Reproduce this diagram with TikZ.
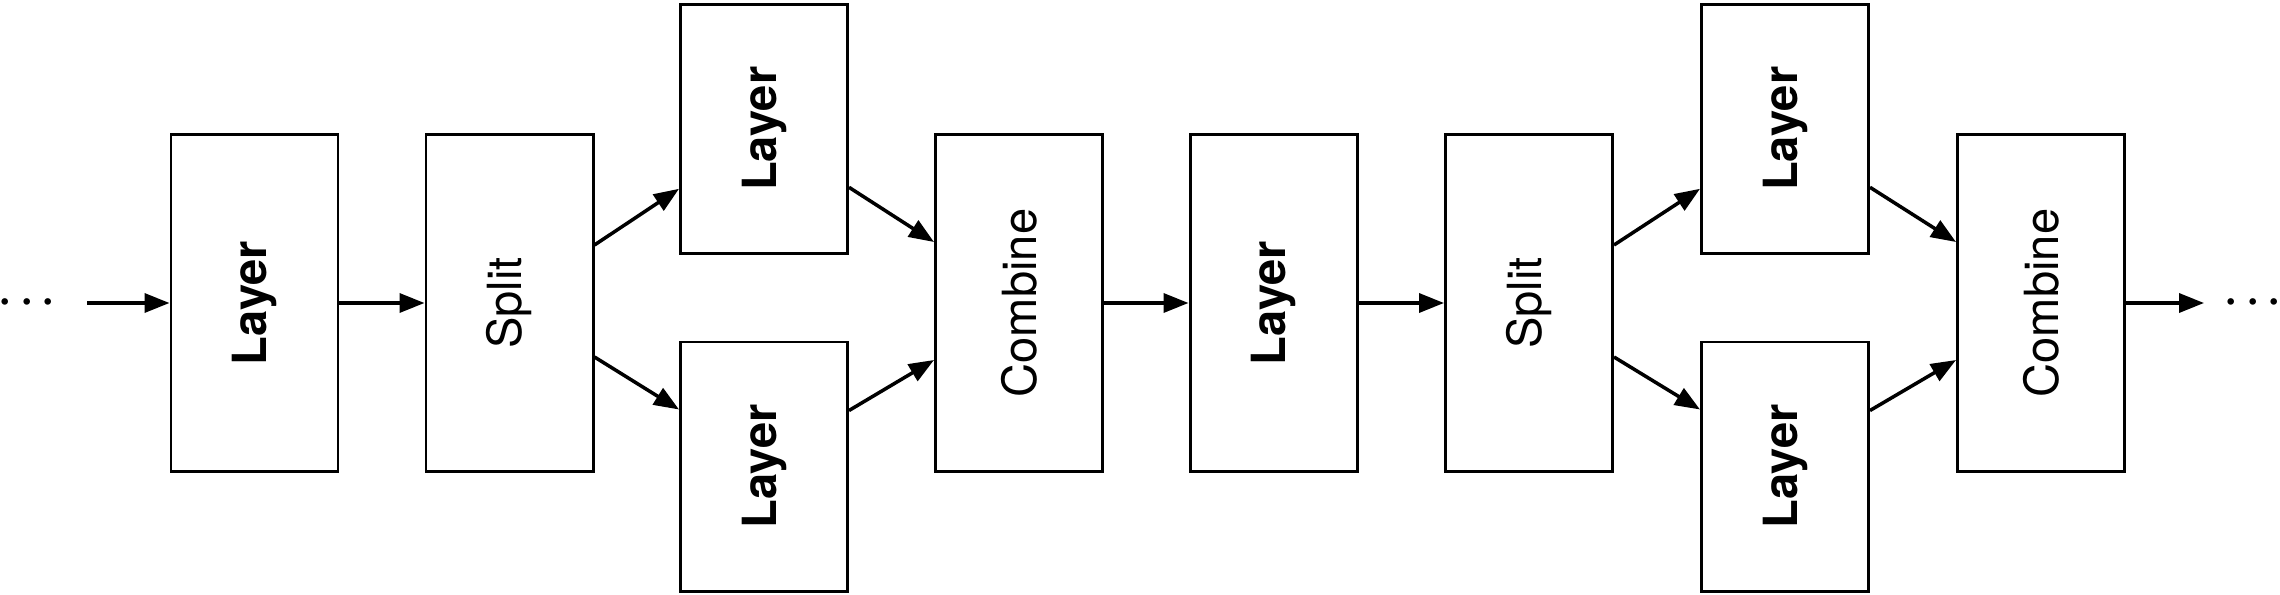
\documentclass[tikz,border=0pt]{standalone}
\usepackage{fontspec}
\setmainfont{TeX Gyre Heros}
\usepackage{graphicx}
\usepackage{bm}
\usetikzlibrary{arrows.meta}
\tikzset{
  blk/.style={draw,line width=0.85pt,minimum width=1.67cm,minimum height=3.37cm,inner sep=0pt},
  side/.style={blk,minimum height=2.49cm},
  arr/.style={line width=1pt,-{Triangle[length=2.5mm,width=1.9mm]}},
  etc/.style={font=\fontsize{12.5pt}{14pt}\selectfont,inner sep=0pt}
}
\newcommand{\upt}[1]{\rotatebox{90}{#1}}

\begin{document}
\begin{tikzpicture}[font=\fontsize{13.4pt}{16pt}\selectfont]
\useasboundingbox (0,0) rectangle (22.8,5.94);
\node[etc] (dl) at (0.27,2.91) {$\bm{\cdots}$};
\node[etc] (dr) at (22.53,2.91) {$\bm{\cdots}$};
\coordinate (in) at (0.87,2.91);
\coordinate (out) at (22.04,2.91);
\node[blk] (l1) at (2.545,2.91) {\upt{\bfseries Layer}};
\node[blk] (sp1) at (5.095,2.91) {\upt{Split}};
\node[side] (up1) at (7.64,4.652) {\upt{\bfseries Layer}};
\node[side] (lo1) at (7.64,1.275) {\upt{\bfseries Layer}};
\node[blk] (cb1) at (10.19,2.91) {\upt{Combine}};
\node[blk] (l2) at (12.735,2.91) {\upt{\bfseries Layer}};
\node[blk] (sp2) at (15.29,2.91) {\upt{Split}};
\node[side] (up2) at (17.85,4.652) {\upt{\bfseries Layer}};
\node[side] (lo2) at (17.85,1.275) {\upt{\bfseries Layer}};
\node[blk] (cb2) at (20.41,2.91) {\upt{Combine}};
\draw[arr] (in) -- (l1);
\draw[arr] (l1) -- (sp1);
\draw[arr] ([yshift=0.58cm]sp1.east) -- ([yshift=-0.6cm]up1.west);
\draw[arr] ([yshift=-0.54cm]sp1.east) -- ([yshift=0.57cm]lo1.west);
\draw[arr] ([yshift=-0.585cm]up1.east) -- ([yshift=0.61cm]cb1.west);
\draw[arr] ([yshift=0.56cm]lo1.east) -- ([yshift=-0.57cm]cb1.west);
\draw[arr] (cb1) -- (l2);
\draw[arr] (l2) -- (sp2);
\draw[arr] ([yshift=0.58cm]sp2.east) -- ([yshift=-0.6cm]up2.west);
\draw[arr] ([yshift=-0.54cm]sp2.east) -- ([yshift=0.57cm]lo2.west);
\draw[arr] ([yshift=-0.585cm]up2.east) -- ([yshift=0.61cm]cb2.west);
\draw[arr] ([yshift=0.56cm]lo2.east) -- ([yshift=-0.57cm]cb2.west);
\draw[arr] (cb2) -- (out);
\end{tikzpicture}
\end{document}
